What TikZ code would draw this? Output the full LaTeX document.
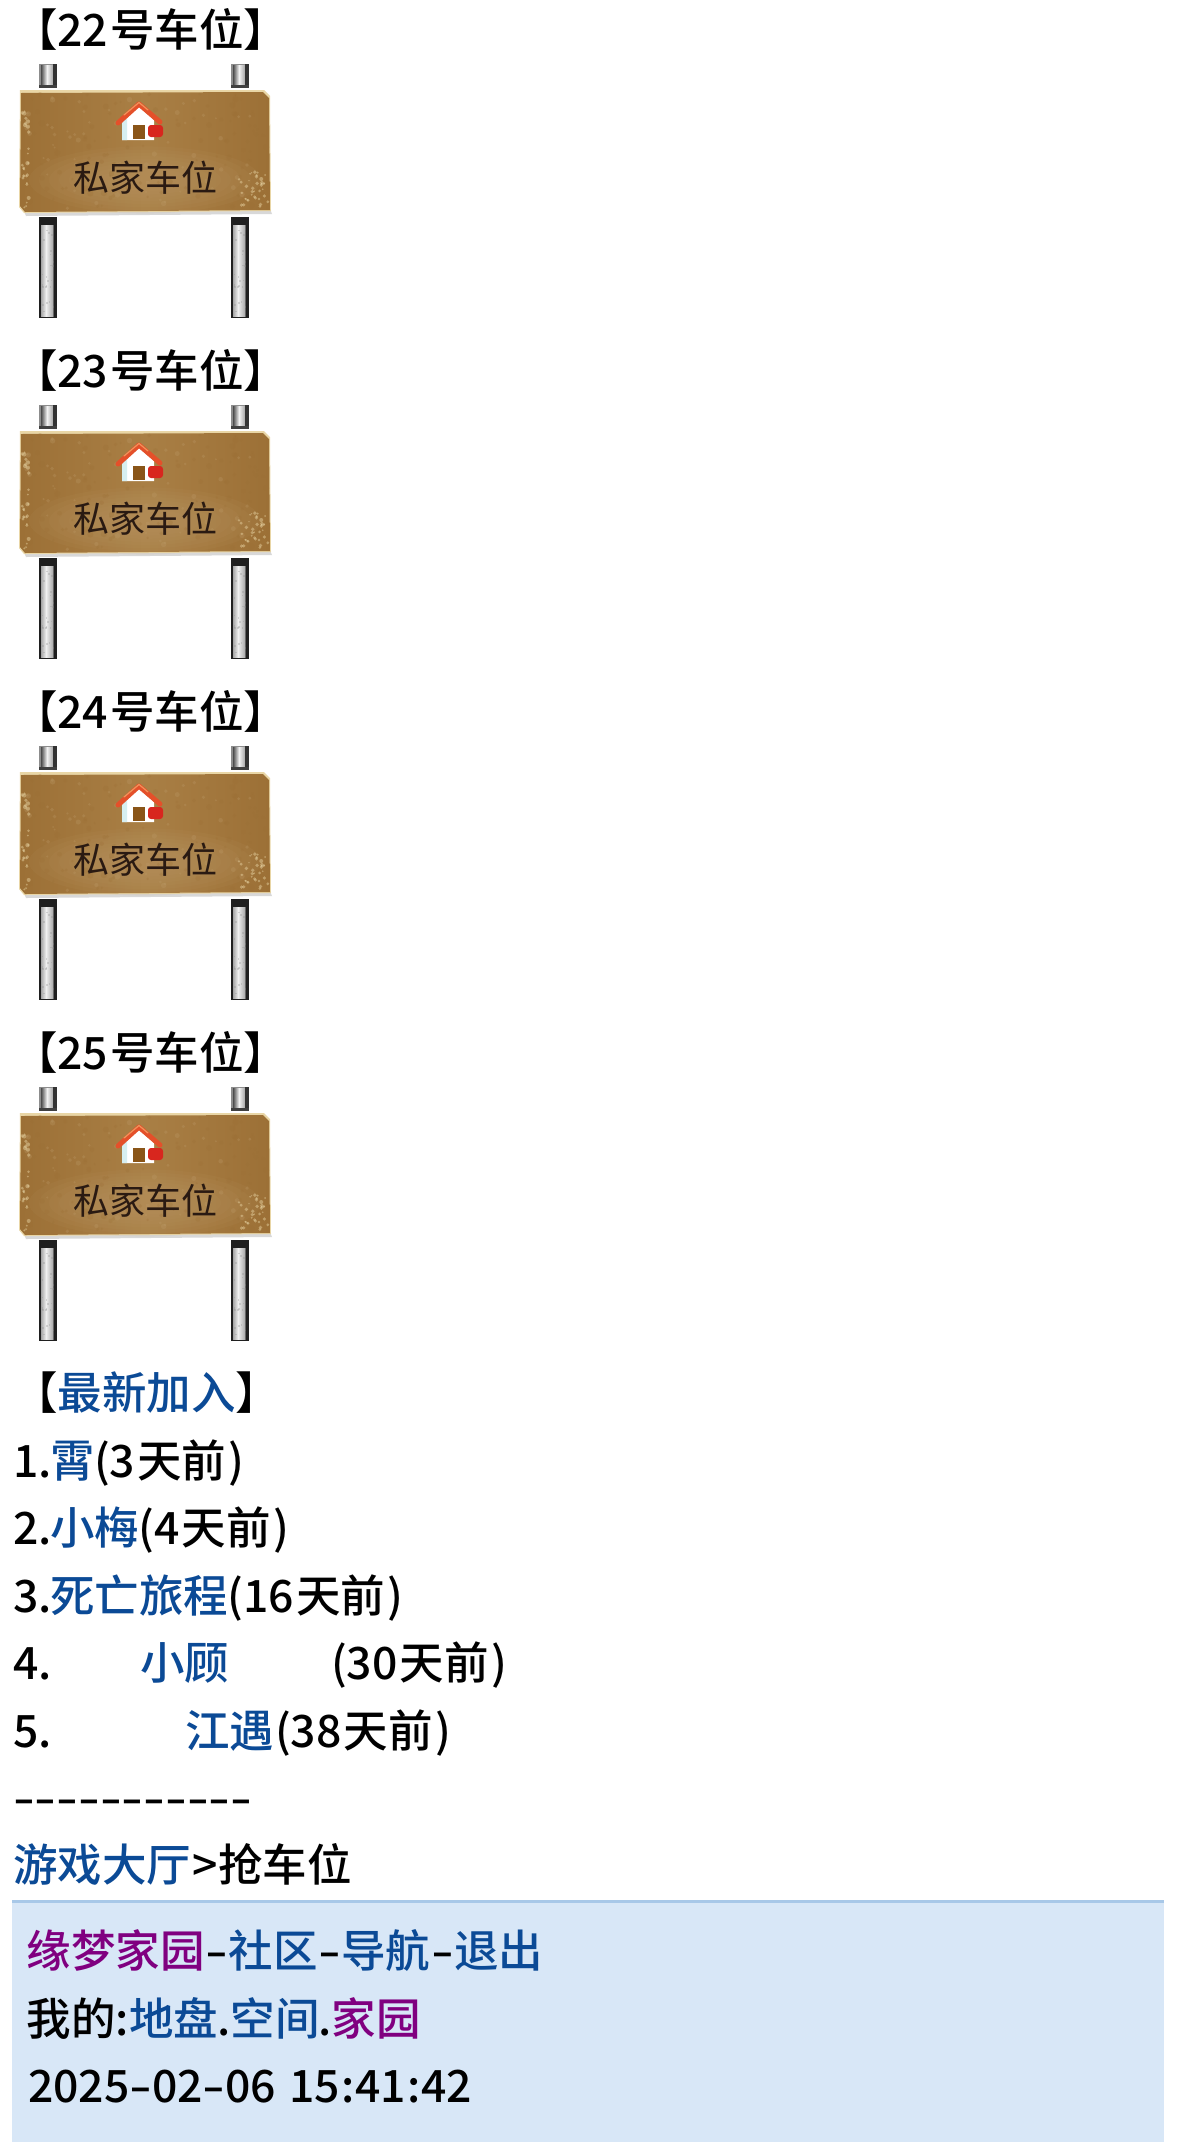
\documentclass[tikz,border=0pt]{standalone}
\usepackage{graphicx}
\usepackage{fontspec}
\setmainfont{Noto Sans CJK SC}[UprightFont=* Medium]
\newfontfamily\signfont{Noto Sans CJK SC}
\newcommand{\hy}{\scalebox{1.43}[1]{-}}
\newcommand{\hyr}{\scalebox{1.37}[1]{-}}
\newcommand{\ago}[1]{(#1\kern 2pt 天前\kern 2.5pt)}
\definecolor{linkblue}{HTML}{0B4A96}
\definecolor{visitpurple}{HTML}{800080}
\definecolor{bandfill}{HTML}{D8E7F7}
\definecolor{bandline}{HTML}{A8C8E8}
\definecolor{boardbrown}{HTML}{A97F45}
\definecolor{boarddark}{HTML}{9C7036}
\definecolor{boardlight}{HTML}{BC9A68}
\definecolor{boardcream}{HTML}{E9D6A6}
\definecolor{signink}{HTML}{2A1A12}
\definecolor{roofred}{HTML}{E4502A}
\definecolor{roofhi}{HTML}{F0945A}
\definecolor{lockred}{HTML}{D8261E}
\definecolor{doorbrown}{HTML}{8A5518}
\definecolor{wallblue}{HTML}{D6EEF0}
\tikzset{
  txt/.style={anchor=base west,inner sep=0pt,outer sep=0pt,font=\fontsize{44.5}{45}\selectfont,text=black},
  lnk/.style={txt,text=linkblue},
  shortpost/.pic={
    \fill[black!45] (0,0) rectangle (18,24);
    \shade[left color=black!70,right color=black!5] (2,1) rectangle (8,22);
    \shade[left color=black!5,right color=black!35] (8,1) rectangle (14,22);
    \fill[black!80] (14,0) rectangle (18,24);
    \fill[black!75] (0,21) rectangle (18,24);
  },
  longpost/.pic={
    \fill[black!88] (0,0) rectangle (18,101);
    \shade[left color=black!35,right color=black!6] (2,8) rectangle (7,99);
    \shade[left color=black!6,right color=black!30] (7,8) rectangle (13,99);
    \shade[left color=black!30,right color=black!90] (13,8) rectangle (15,99);
    \pgfmathsetseed{77}
    \foreach \i in {1,...,25}{
      \pgfmathsetmacro{\sy}{9+rnd*89}
      \pgfmathsetmacro{\sx}{2+rnd*12}
      \fill[black!45,opacity=.3] (\sx,\sy) rectangle ++(1.4,1.8);
    }
  },
  signboard/.pic={
    \pic at (39,64) {shortpost};
    \pic at (231,64) {shortpost};
    \pic at (39,217) {longpost};
    \pic at (231,217) {longpost};
    % soft bottom shadow and top rim
    \fill[black!25,opacity=.6] (24,211) -- (270,209) -- (272,214) -- (26,216) -- cycle;
    \fill[boardcream] (20,90) -- (264,90) -- (270,96) -- (271,211) -- (24,213) -- (19,207) -- cycle;
    \shade[left color=boarddark,right color=boarddark,middle color=boardbrown]
      (21,93) -- (263,92) -- (269,98) -- (270,210) -- (25,212) -- (20,206) -- cycle;
    % lighter glow behind the words
    \foreach \k in {1,...,8}{
      \fill[boardlight,opacity=.09] (145,180) ellipse[x radius=36+10*\k,y radius=8+3.2*\k];
    }
    % mottled texture
    \pgfmathsetseed{2718}
    \foreach \i in {1,...,110}{
      \pgfmathsetmacro{\sx}{24+rnd*243}
      \pgfmathsetmacro{\sy}{94+rnd*115}
      \pgfmathsetmacro{\sr}{1+rnd*2.2}
      \fill[boarddark,opacity=.28] (\sx,\sy) circle[radius=\sr];
    }
    \foreach \i in {1,...,70}{
      \pgfmathsetmacro{\sx}{24+rnd*243}
      \pgfmathsetmacro{\sy}{94+rnd*115}
      \pgfmathsetmacro{\sr}{1+rnd*1.8}
      \fill[boardlight,opacity=.3] (\sx,\sy) circle[radius=\sr];
    }
    \foreach \i in {1,...,28}{
      \pgfmathsetmacro{\sx}{22+rnd*7}
      \pgfmathsetmacro{\sy}{96+rnd*112}
      \pgfmathsetmacro{\sr}{.8+rnd*1.4}
      \fill[boardcream,opacity=.45] (\sx,\sy) circle[radius=\sr];
    }
    \foreach \i in {1,...,40}{
      \pgfmathsetmacro{\sx}{238+rnd*30}
      \pgfmathsetmacro{\sy}{170+rnd*39}
      \pgfmathsetmacro{\sr}{.7+rnd*1.3}
      \fill[boardcream,opacity=.45] (\sx,\sy) circle[radius=\sr];
    }
    % house
    \fill[white] (122,122) -- (139,107) -- (154,120) -- (154,140) -- (122,140) -- cycle;
    \fill[wallblue] (122,122) -- (127,117) -- (127,140) -- (122,140) -- cycle;
    \fill[doorbrown] (133,125) rectangle (145,139);
    \draw[roofred,line width=5pt,line cap=round,line join=round] (118,123) -- (139,104) -- (160,122);
    \draw[roofhi,line width=1.2pt,line cap=round,line join=round] (124,115) -- (139,102.5) -- (148,110);
    \draw[lockred,line width=1.8pt] (152,126) arc[start angle=180,end angle=0,radius=4];
    \fill[lockred,rounded corners=3pt] (148,125) rectangle (163,137);
    % sign text
    \node[anchor=center,inner sep=0pt,text=signink,font=\signfont\fontsize{36}{36}\selectfont] (-label) at (145,178) {私家车位};
  }
}
\begin{document}
\begin{tikzpicture}[x=1pt,y=-1pt]
\useasboundingbox (0,0) rectangle (1176,2142);
\fill[white] (0,0) rectangle (1176,2142);

% parking slots
\node[txt] (slot22) at (13,46) {【22\kern 2pt 号车位】};
\pic (sign22) at (0,0) {signboard};
\node[txt] (slot23) at (13,387) {【23\kern 2pt 号车位】};
\pic (sign23) at (0,341) {signboard};
\node[txt] (slot24) at (13,728) {【24\kern 2pt 号车位】};
\pic (sign24) at (0,682) {signboard};
\node[txt] (slot25) at (13,1069) {【25\kern 2pt 号车位】};
\pic (sign25) at (0,1023) {signboard};

% newest members
\node[txt] (newest) at (13,1409) {【\textcolor{linkblue}{最新加入}】};
\node[txt] (m1) at (13,1477) {1.\kern -1.5pt\textcolor{linkblue}{霄}\kern -.5pt\ago{3}};
\node[txt] (m2) at (13,1544) {2.\kern -1.5pt\textcolor{linkblue}{小梅}\kern -.5pt\ago{4}};
\node[txt] (m3) at (13,1612) {3.\kern -1.5pt\textcolor{linkblue}{死亡旅程}\kern -.5pt\ago{16}};
\node[txt] (m4a) at (13,1679) {4.};
\node[lnk] (m4b) at (140,1679) {小顾};
\node[txt] (m4c) at (331,1679) {\ago{30}};
\node[txt] (m5a) at (13,1747) {5.};
\node[lnk] (m5b) at (185,1747) {江遇};
\node[txt] (m5c) at (275,1747) {\ago{38}};

% separator and breadcrumb
\node[txt] (rule) at (13,1814) {\hyr\hyr\hyr\hyr\hyr\hyr\hyr\hyr\hyr\hyr\hyr};
\node[txt] (crumb) at (13,1881) {\textcolor{linkblue}{游戏大厅}\kern 1pt>\kern 1pt抢车位};

% footer band
\fill[bandfill] (12,1901) rectangle (1164,2142);
\fill[bandline] (12,1900) rectangle (1164,1903);
\node[txt] (f1) at (27,1967) {\textcolor{visitpurple}{缘梦家园}\kern 1pt\hy\textcolor{linkblue}{社区}\kern 1pt\hy\textcolor{linkblue}{导航}\kern 1pt\hy\textcolor{linkblue}{退出}};
\node[txt] (f2) at (27,2035) {我的:\textcolor{linkblue}{地盘}\kern -1pt.\textcolor{linkblue}{空间}\kern -1pt.\textcolor{visitpurple}{家园}};
\node[txt] (f3) at (28,2102) {2025\hy 02\hy 06\kern 13pt 15\kern 1pt:\kern 1pt41\kern 1pt:\kern 1pt42};
\end{tikzpicture}
\end{document}
